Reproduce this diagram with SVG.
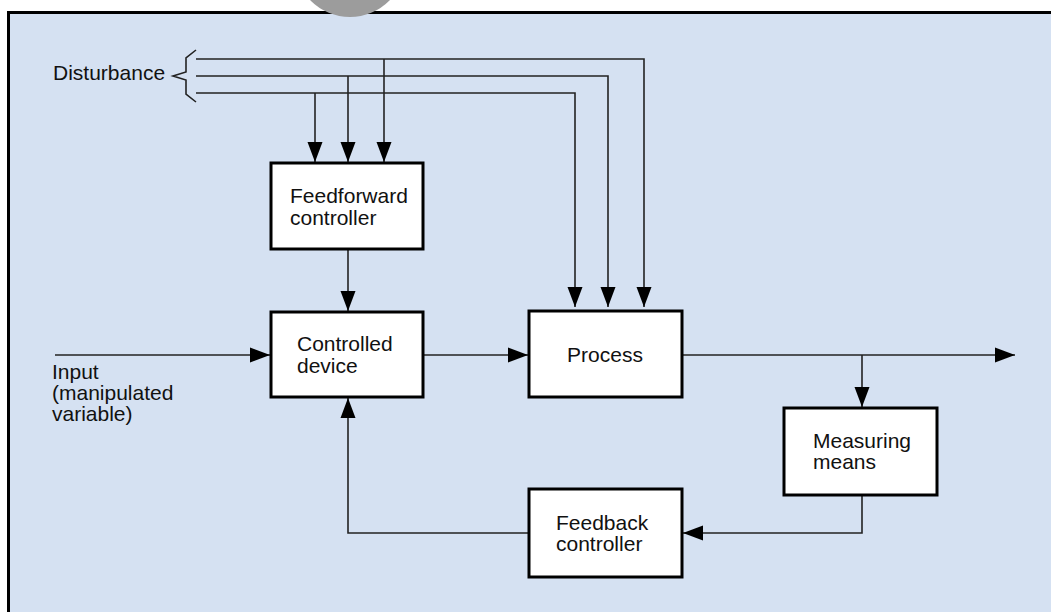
<svg xmlns="http://www.w3.org/2000/svg" width="1051" height="612" viewBox="0 0 1051 612">
<style>
.box{fill:#fff;stroke:#000;stroke-width:3}
.ln{fill:none;stroke:#222;stroke-width:1.6}
.t{font-family:"Liberation Sans",Arial,sans-serif;font-size:21px;fill:#111}
</style>
<defs>
<marker id="ah" markerUnits="userSpaceOnUse" markerWidth="20" markerHeight="16" refX="20" refY="7.5" orient="auto" viewBox="0 0 20 15">
<path d="M0,0 L20,7.5 L0,15 z" fill="#000"/>
</marker>
</defs>
<rect x="0" y="0" width="1051" height="612" fill="#fff"/>
<rect x="8.5" y="12.5" width="1050" height="610" fill="#d5e1f2" stroke="#000" stroke-width="3"/>
<circle cx="350" cy="-38.5" r="55.5" fill="#9c9c9c"/>

<g id="connectors">
<path class="ln" d="M196,50 L186,58 L186,72 L173,76 L186,80 L186,94 L196,102"/>
<path class="ln" d="M196,59 H644 V307" marker-end="url(#ah)"/>
<path class="ln" d="M196,76 H608 V307" marker-end="url(#ah)"/>
<path class="ln" d="M196,93 H575 V307" marker-end="url(#ah)"/>
<path class="ln" d="M384,59 V162" marker-end="url(#ah)"/>
<path class="ln" d="M348,76 V162" marker-end="url(#ah)"/>
<path class="ln" d="M315,93 V162" marker-end="url(#ah)"/>
<path class="ln" d="M348,249 V311" marker-end="url(#ah)"/>
<path class="ln" d="M55,355 H270" marker-end="url(#ah)"/>
<path class="ln" d="M423,355 H528" marker-end="url(#ah)"/>
<path class="ln" d="M682,355 H1015" marker-end="url(#ah)"/>
<path class="ln" d="M862,355 V407" marker-end="url(#ah)"/>
<path class="ln" d="M862,495 V533 H683" marker-end="url(#ah)"/>
<path class="ln" d="M529,533 H348 V398" marker-end="url(#ah)"/>
</g>

<g id="disturbance"><text class="t" x="53" y="80">Disturbance</text></g>
<g id="input"><text class="t" x="52" y="379">Input</text><text class="t" x="52" y="400">(manipulated</text><text class="t" x="52" y="421">variable)</text></g>

<g id="feedforward">
<rect class="box" x="271" y="163" width="152" height="86"/>
<text class="t" x="290" y="203">Feedforward</text>
<text class="t" x="290" y="225">controller</text>
</g>
<g id="controlled">
<rect class="box" x="271" y="312" width="152" height="85"/>
<text class="t" x="297" y="351">Controlled</text>
<text class="t" x="297" y="373">device</text>
</g>
<g id="process">
<rect class="box" x="529" y="311" width="153" height="86"/>
<text class="t" x="605" y="362" text-anchor="middle">Process</text>
</g>
<g id="measuring">
<rect class="box" x="784" y="408" width="153" height="87"/>
<text class="t" x="813" y="448">Measuring</text>
<text class="t" x="813" y="469">means</text>
</g>
<g id="feedback">
<rect class="box" x="529" y="489" width="153" height="88"/>
<text class="t" x="556" y="530">Feedback</text>
<text class="t" x="556" y="551">controller</text>
</g>
</svg>
